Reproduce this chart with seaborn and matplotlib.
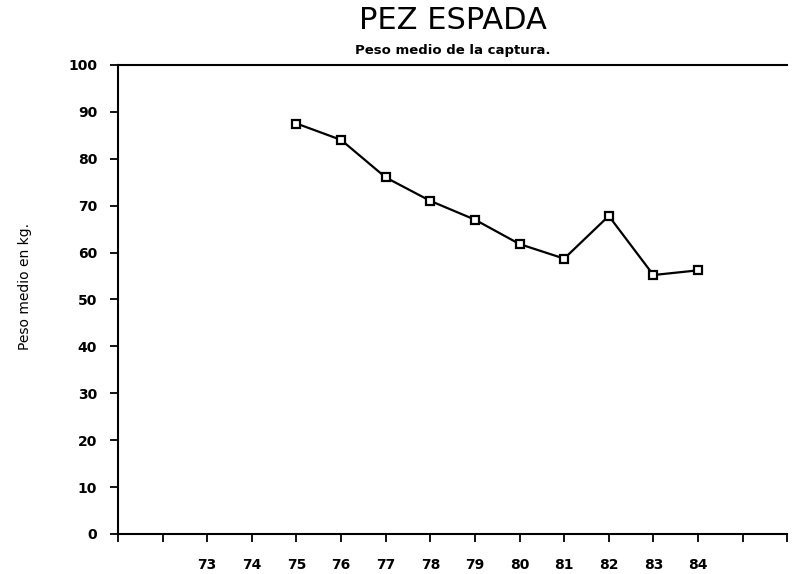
import matplotlib
matplotlib.use("Agg")
import matplotlib.pyplot as plt
import seaborn as sns

# data
years = [75, 76, 77, 78, 79, 80, 81, 82, 83, 84]
peso_medio = [87.5, 84.0, 76.0, 71.0, 67.0, 61.8, 58.7, 67.8, 55.2, 56.2]

x_ticks = list(range(71, 87))
x_tick_labels = ["", "", "73", "74", "75", "76", "77", "78", "79", "80",
                 "81", "82", "83", "84", "", ""]
y_ticks = list(range(0, 101, 10))


def main():
    sns.set_style("ticks")
    plt.rcParams["font.family"] = ["DejaVu Sans"]
    plt.rcParams["text.color"] = "black"
    plt.rcParams["xtick.color"] = "black"
    plt.rcParams["ytick.color"] = "black"

    fig = plt.figure(figsize=(7.92, 5.74), dpi=100)
    ax = fig.add_axes([0.149, 0.0697, 0.845, 0.8173])

    sns.lineplot(
        x=years,
        y=peso_medio,
        ax=ax,
        color="black",
        linewidth=1.6,
        marker="s",
        markersize=6,
        markerfacecolor="white",
        markeredgecolor="black",
        markeredgewidth=1.6,
    )

    ax.set_xlim(71, 86)
    ax.set_ylim(0, 100)
    ax.set_xticks(x_ticks)
    ax.set_xticklabels(x_tick_labels, fontsize=10, fontweight="bold")
    ax.set_yticks(y_ticks)
    ax.set_yticklabels([str(v) for v in y_ticks], fontsize=10, fontweight="bold")
    ax.tick_params(axis="both", direction="out", length=6, width=1.3,
                   color="black", labelcolor="black")
    ax.tick_params(axis="x", pad=11)
    ax.tick_params(axis="y", pad=9)

    for side in ["left", "bottom", "top"]:
        ax.spines[side].set_color("black")
        ax.spines[side].set_linewidth(1.5)
    ax.spines["right"].set_visible(False)

    ax.set_xlabel("")
    ax.set_ylabel("")
    fig.text(0.032, 0.50, "Peso medio en kg.", rotation=90, ha="center",
             va="center", fontsize=10, color="black")
    fig.text(0.572, 0.965, "PEZ ESPADA", ha="center", va="center",
             fontsize=22, fontweight="normal", color="black")
    fig.text(0.572, 0.912, "Peso medio de la captura.", ha="center",
             va="center", fontsize=9.5, fontweight="bold", color="black")

    fig.savefig("out.png", dpi=100)
    plt.close(fig)


if __name__ == "__main__":
    main()
